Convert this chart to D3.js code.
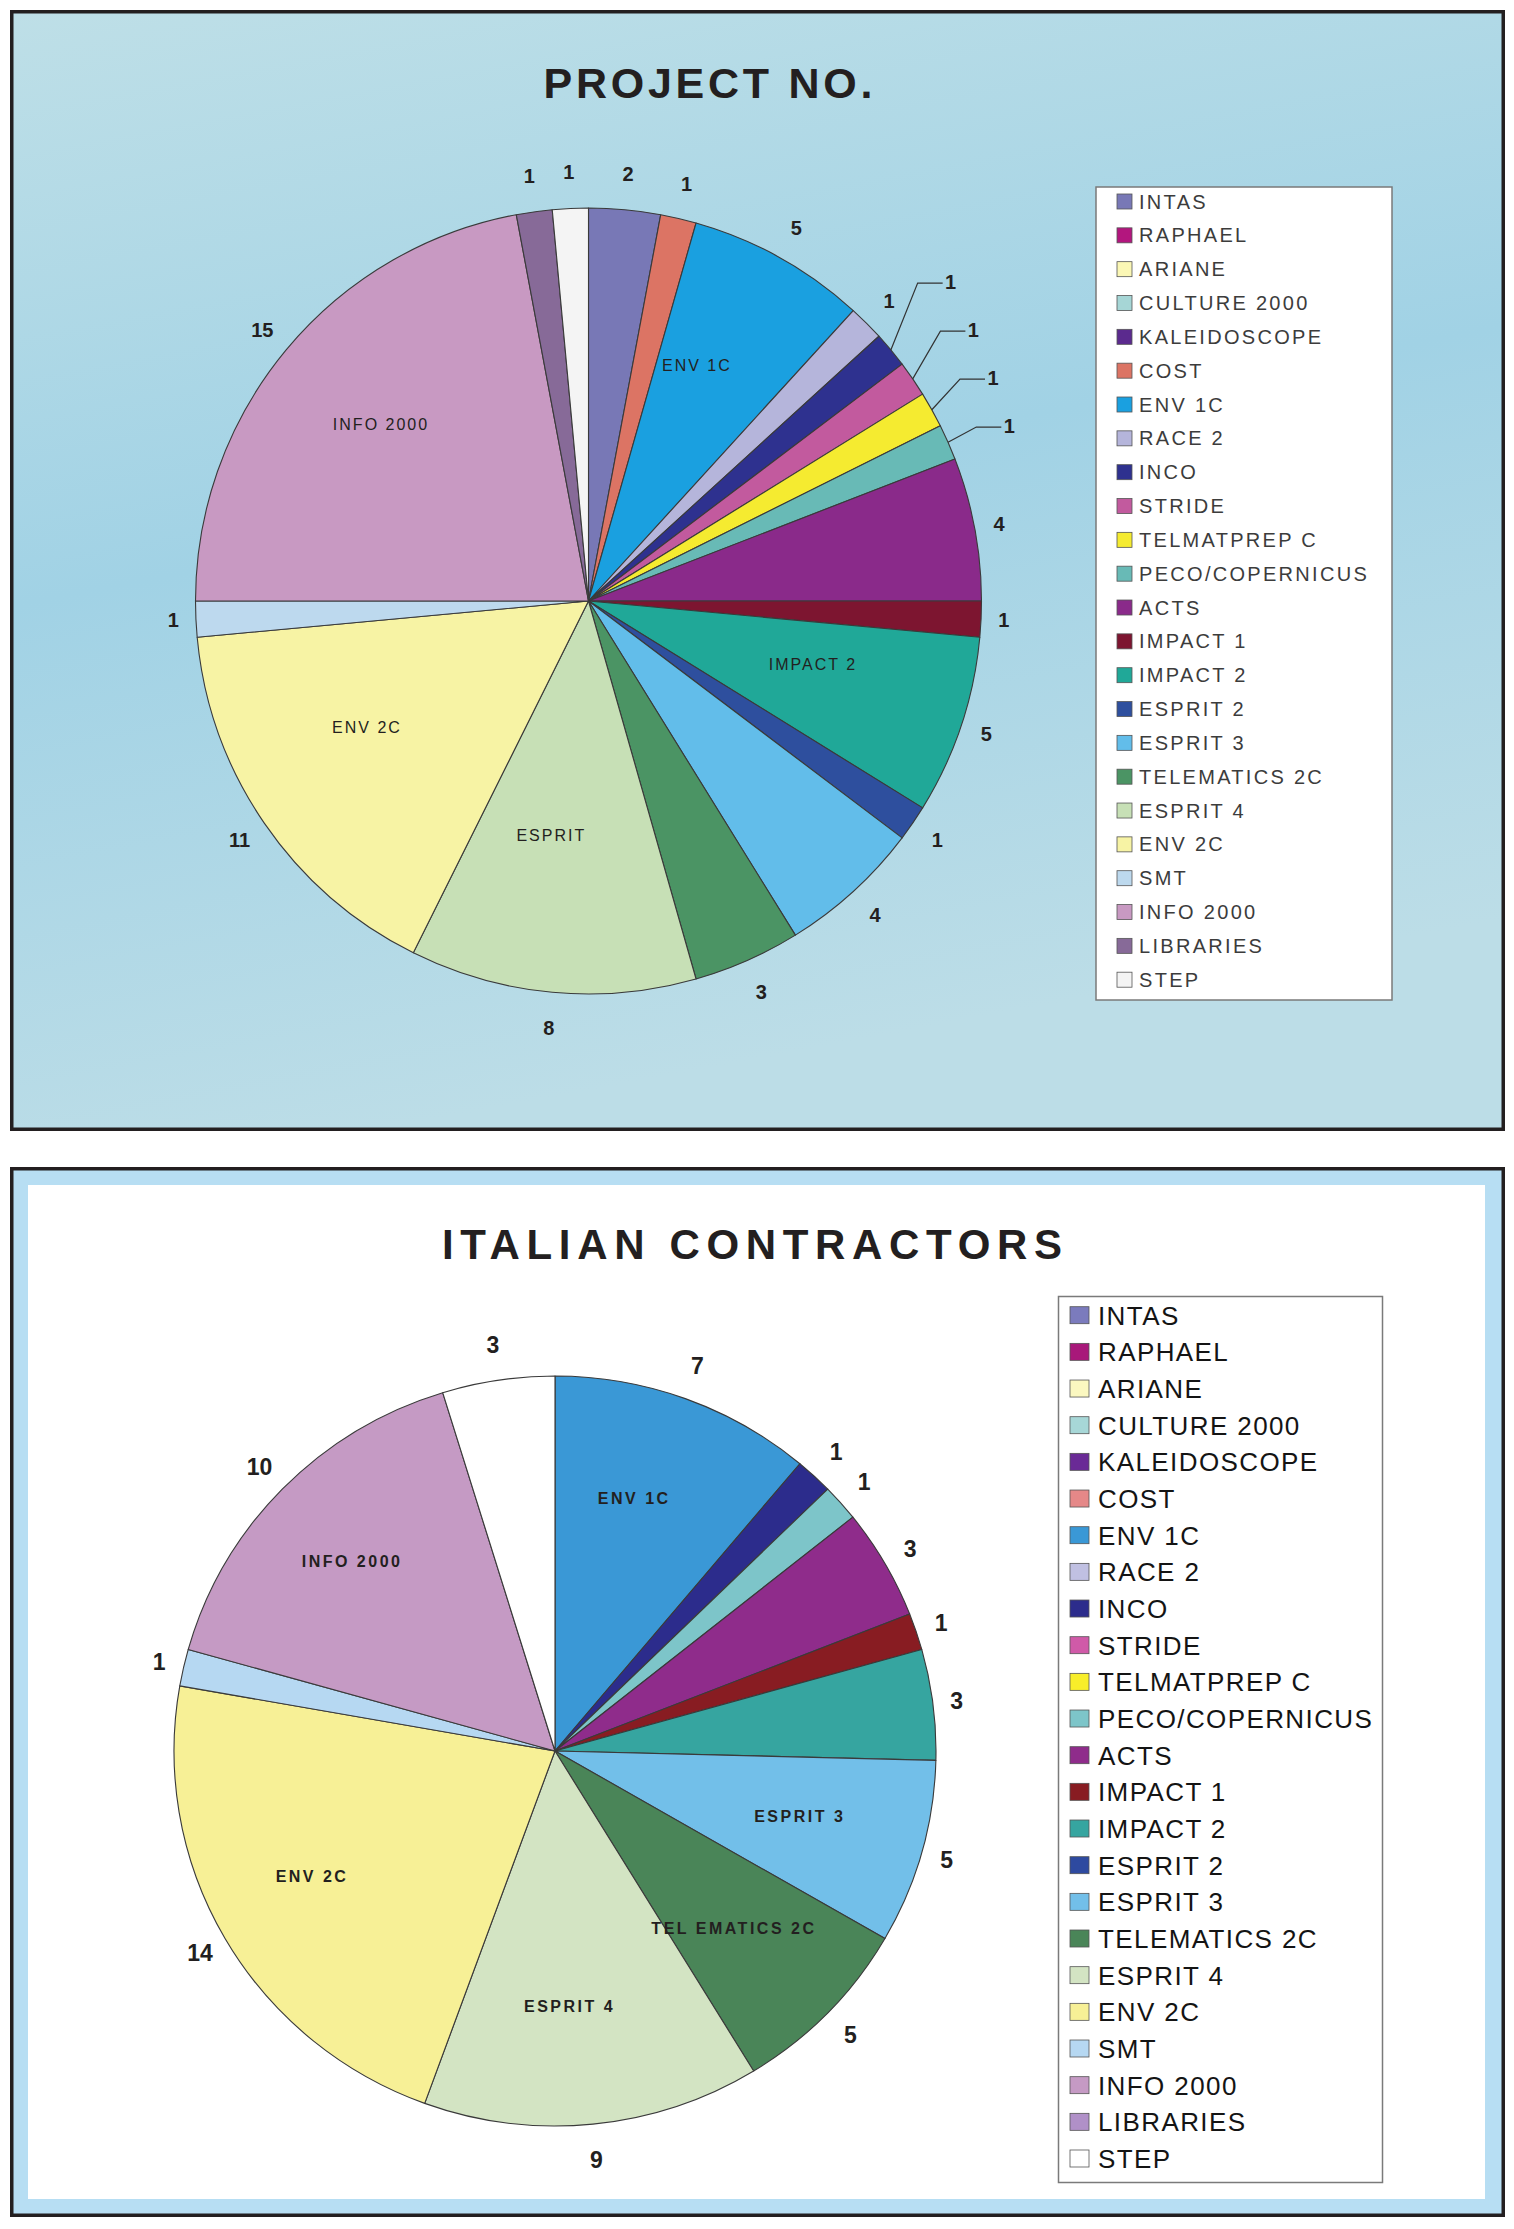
<!DOCTYPE html>
<html><head><meta charset="utf-8">
<script src="https://cdn.jsdelivr.net/npm/d3@7/dist/d3.min.js"></script>
<style>body{margin:0;background:#fff}svg{display:block}</style>
</head><body><svg id="c" width="1514" height="2229"></svg>
<script>
const categories = ["INTAS","RAPHAEL","ARIANE","CULTURE 2000","KALEIDOSCOPE","COST","ENV 1C","RACE 2","INCO","STRIDE","TELMATPREP C","PECO/COPERNICUS","ACTS","IMPACT 1","IMPACT 2","ESPRIT 2","ESPRIT 3","TELEMATICS 2C","ESPRIT 4","ENV 2C","SMT","INFO 2000","LIBRARIES","STEP"];
const topValues    = [2,0,0,0,0,1,5,1,1,1,1,1,4,1,5,1,4,3,8,11,1,15,1,1];
const bottomValues = [0,0,0,0,0,0,7,0,1,0,0,1,3,1,3,0,5,5,9,14,1,10,0,3];
const topColors = ["#7878b6","#b3167e","#fbf7b5","#a6d6d6","#5b2a8e","#dc7464","#1aa0e0","#b5b5db","#2e318f","#c25a9e","#f5eb30","#68bab6","#8a2a8a","#7d1530","#20a898","#2e4f9e","#62bdea","#4b9464","#c7e0b6","#f7f3a4","#bdd9ee","#c899c2","#876a98","#f4f4f4"];
const bottomColors = ["#7b7bbd","#a8187a","#fbf8c0","#a7d7d7","#6a2a96","#e58888","#3a98d6","#c0c0e2","#2c2c8c","#d05aa8","#f8ee2a","#7dc5c9","#8f2c8b","#881c22","#36a5a0","#2e4aa0","#72bfe9","#4a8558","#d3e4c3","#f7f096","#b6d8f2","#c59ac4","#b090c8","#ffffff"];
const topInnerCats = ["ENV 1C","IMPACT 2","ESPRIT 4","ENV 2C","INFO 2000"];
const topInnerText = ["ENV 1C","IMPACT 2","ESPRIT","ENV 2C","INFO 2000"];
const bottomInnerCats = ["ENV 1C","ESPRIT 3","TELEMATICS 2C","ESPRIT 4","ENV 2C","INFO 2000"];
const bottomInnerText = ["ENV 1C","ESPRIT 3","TEL EMATICS 2C","ESPRIT 4","ENV 2C","INFO 2000"];
const topLeaderCats = ["INCO","STRIDE","TELMATPREP C","PECO/COPERNICUS"];
const titles = ["PROJECT NO.","ITALIAN CONTRACTORS"];

const svg = d3.select("#c");
const FONT = "'Liberation Sans', Arial, sans-serif";
const defs = svg.append("defs");
const grad = defs.append("linearGradient").attr("id","bgTop").attr("x1","0").attr("y1","0").attr("x2","0.25").attr("y2","1");
grad.append("stop").attr("offset","0").attr("stop-color","#bedfe7");
grad.append("stop").attr("offset","0.5").attr("stop-color","#a1d2e5");
grad.append("stop").attr("offset","1").attr("stop-color","#bcdde7");

// ---- panels ----
svg.append("rect").attr("x",11.75).attr("y",11.75).attr("width",1491.5).attr("height",1117.5)
  .attr("fill","url(#bgTop)").attr("stroke","#231f20").attr("stroke-width",3.5);
svg.append("rect").attr("x",11.75).attr("y",1168.75).attr("width",1491.5).attr("height",1046.5)
  .attr("fill","#b7def3").attr("stroke","#231f20").attr("stroke-width",3.5);
svg.append("rect").attr("x",28).attr("y",1185).attr("width",1457).attr("height",1014).attr("fill","#ffffff");

// ---- titles ----
svg.append("text").attr("x",708).attr("y",98).attr("text-anchor","middle")
  .attr("font-family",FONT).attr("font-weight","bold").attr("font-size",43)
  .attr("textLength",329).attr("lengthAdjust","spacing").attr("fill","#231f20").text(titles[0]);
svg.append("text").attr("x",752).attr("y",1259).attr("text-anchor","middle")
  .attr("font-family",FONT).attr("font-weight","bold").attr("font-size",42)
  .attr("textLength",620).attr("lengthAdjust","spacing").attr("fill","#231f20").text(titles[1]);

function drawPie(cfg){
  const data = categories.map((c,i)=>({cat:c, value:cfg.values[i], color:cfg.colors[i]}));
  const pie = d3.pie().sort(null).value(d=>d.value).startAngle(0).endAngle(2*Math.PI);
  const arcs = pie(data);
  const arc = d3.arc().innerRadius(0).outerRadius(cfg.ry);
  const g = svg.append("g");
  g.append("g").attr("transform",`translate(${cfg.cx},${cfg.cy}) scale(${cfg.rx/cfg.ry},1)`)
    .selectAll("path").data(arcs.filter(a=>a.data.value>0)).join("path")
    .attr("d",arc).attr("fill",d=>d.data.color)
    .attr("stroke","#3a3a3a").attr("stroke-width",1.1).attr("stroke-linejoin","round");

  const mid = a => (a.startAngle+a.endAngle)/2;
  const pos = (ang, off) => [cfg.cx + (cfg.rx+off)*Math.sin(ang), cfg.cy - (cfg.ry+off)*Math.cos(ang)];
  const labels = arcs.filter(a=>a.data.value>0).map(a=>{
    const m = mid(a);
    const off = 22 + 14*Math.abs(Math.cos(m));
    const p = pos(m, off);
    return {a, m, x:p[0], y:p[1], leader:false};
  });
  // leader-line labels: spread upward from the bottom-most
  const lead = labels.filter(l=>cfg.leaders.includes(l.a.data.cat));
  if(lead.length){
    let y = lead[lead.length-1].y - 5;
    for(let i=lead.length-1;i>=0;i--){
      lead[i].leader = true;
      lead[i].x += 36;
      lead[i].y = y;
      y -= 48;
    }
  }
  labels.forEach(l=>{
    if(l.leader){
      const e = pos(l.m, 0);
      g.append("polyline").attr("points",`${e[0]},${e[1]} ${l.x-33},${l.y+1} ${l.x-8},${l.y+1}`)
        .attr("fill","none").attr("stroke","#333").attr("stroke-width",1.2);
    }
    g.append("text").attr("x",l.x).attr("y",l.y).attr("text-anchor","middle").attr("dominant-baseline","central")
      .attr("font-family",FONT).attr("font-weight","bold").attr("font-size",cfg.numSize)
      .attr("fill","#231f20").text(l.a.data.value);
  });
  // inner category labels
  cfg.innerCats.forEach((c,i)=>{
    const a = arcs.find(d=>d.data.cat===c);
    const m = mid(a);
    const x = cfg.cx + cfg.innerK*cfg.rx*Math.sin(m) + cfg.innerShift[0],
          y = cfg.cy - cfg.innerK*cfg.ry*Math.cos(m) + cfg.innerShift[1];
    g.append("text").attr("x",x).attr("y",y).attr("text-anchor","middle").attr("dominant-baseline","central")
      .attr("font-family",FONT).attr("font-weight",cfg.innerWeight).attr("font-size",cfg.innerSize)
      .attr("letter-spacing",cfg.innerSpacing).attr("fill","#231f20").text(cfg.innerText[i]);
  });
}

function drawLegend(cfg){
  const g = svg.append("g");
  g.append("rect").attr("x",cfg.x).attr("y",cfg.y).attr("width",cfg.w).attr("height",cfg.h)
    .attr("fill","#fff").attr("stroke","#7a7a7a").attr("stroke-width",1.5);
  const yS = d3.scalePoint().domain(categories).range([cfg.y0, cfg.y1]);
  const rows = g.selectAll("g.row").data(categories).join("g").attr("class","row")
    .attr("transform",c=>`translate(0,${yS(c)})`);
  rows.append("rect").attr("x",cfg.sx).attr("y",-cfg.sh/2).attr("width",cfg.sw).attr("height",cfg.sh)
    .attr("fill",(c,i)=>cfg.colors[i]).attr("stroke","#555").attr("stroke-width",0.8);
  rows.append("text").attr("x",cfg.tx).attr("y",cfg.base)
    .attr("font-family",FONT).attr("font-size",cfg.fs).attr("letter-spacing",cfg.ls)
    .attr("fill",cfg.fill).text(c=>c);
}

drawPie({values:topValues, colors:topColors, cx:588.5, cy:601, rx:393, ry:393,
  leaders:topLeaderCats, innerCats:topInnerCats, innerText:topInnerText, innerK:0.64, innerShift:[-14,-16],
  numSize:20, innerSize:16, innerSpacing:2, innerWeight:"normal"});
drawPie({values:bottomValues, colors:bottomColors, cx:555, cy:1751, rx:381, ry:375,
  leaders:[], innerCats:bottomInnerCats, innerText:bottomInnerText, innerK:0.70, innerShift:[-12,-6],
  numSize:23, innerSize:16, innerSpacing:2.5, innerWeight:"bold"});

drawLegend({x:1096, y:187, w:296, h:813, y0:201.5, y1:979.7, sx:1117, sw:15, sh:15, tx:1139,
  base:7, fs:20, ls:2.3, fill:"#3c3c3c", colors:topColors});
drawLegend({x:1058.5, y:1296.5, w:324, h:886, y0:1315.2, y1:2158.5, sx:1070, sw:19, sh:17, tx:1098,
  base:9.5, fs:26, ls:1.4, fill:"#141414", colors:bottomColors});
</script></body></html>
